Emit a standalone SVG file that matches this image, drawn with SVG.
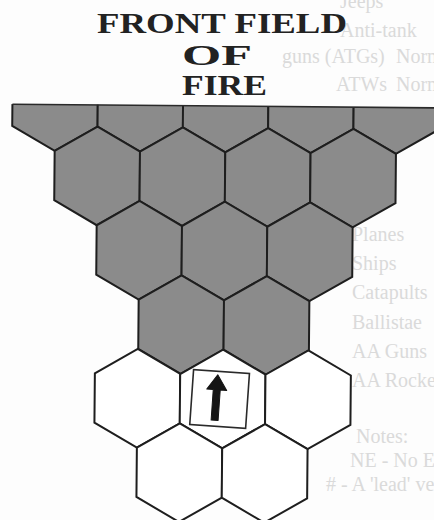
<svg xmlns="http://www.w3.org/2000/svg" xmlns:xlink="http://www.w3.org/1999/xlink" width="434" height="520" viewBox="0 0 434 520">
  <style>
    .bleed { font-family: "Liberation Serif", "Times New Roman", serif; font-size: 20px; fill: #dadada; }
    .title { font-family: "Liberation Serif", "Times New Roman", serif; font-weight: bold; font-size: 29px; fill: #222222; }
    .hg { fill: #8b8b8b; stroke: #1e1e1e; stroke-width: 2; stroke-linejoin: miter; }
    .hw { fill: #ffffff; stroke: #1e1e1e; stroke-width: 2; stroke-linejoin: miter; }
    .counter { fill: #ffffff; stroke: #2a2a2a; stroke-width: 1.6; }
    .arrow { fill: #151515; stroke: #151515; stroke-width: 1; stroke-linejoin: round; }
  </style>
  <defs>
    <polygon id="hx" points="0,-49.3 42.7,-24.65 42.7,24.65 0,49.3 -42.7,24.65 -42.7,-24.65"/>
    <clipPath id="bandClip">
      <rect x="0" y="106" width="460" height="100"/>
    </clipPath>
  </defs>

  <rect x="0" y="0" width="434" height="520" fill="#fdfdfd"/>

  <!-- faint show-through text from the page -->
  <g id="bleed-text" class="bleed">
    <text x="340" y="8">Jeeps</text>
    <text x="340" y="37">Anti-tank</text>
    <text x="282" y="63">guns (ATGs)</text>
    <text x="396" y="63">Normal</text>
    <text x="336" y="91">ATWs</text>
    <text x="396" y="91">Normal</text>
    <text x="352" y="241">Planes</text>
    <text x="352" y="270">Ships</text>
    <text x="352" y="299">Catapults</text>
    <text x="352" y="329">Ballistae</text>
    <text x="352" y="358">AA Guns</text>
    <text x="352" y="387">AA Rockets</text>
    <text x="356" y="443">Notes:</text>
    <text x="350" y="467">NE - No Effect</text>
    <text x="326" y="491"># - A 'lead' vehicle is any vehicle w</text>
  </g>

  <!-- title -->
  <g id="title" class="title">
    <text x="97" y="33" textLength="250" lengthAdjust="spacingAndGlyphs">FRONT FIELD</text>
    <text x="182" y="65" textLength="70" lengthAdjust="spacingAndGlyphs">OF</text>
    <text x="182" y="95" textLength="85" lengthAdjust="spacingAndGlyphs">FIRE</text>
  </g>

  <!-- hex field (scan is slightly rotated) -->
  <g id="hex-field" transform="rotate(0.5 220 290)">
    <g id="row1" clip-path="url(#bandClip)">
      <g id="hex-r1c1" transform="translate(53.5,103)"><use xlink:href="#hx" class="hg"/></g>
      <g id="hex-r1c2" transform="translate(138.8,103)"><use xlink:href="#hx" class="hg"/></g>
      <g id="hex-r1c3" transform="translate(224.1,103)"><use xlink:href="#hx" class="hg"/></g>
      <g id="hex-r1c4" transform="translate(309.4,103)"><use xlink:href="#hx" class="hg"/></g>
      <g id="hex-r1c5" transform="translate(394.7,103)"><use xlink:href="#hx" class="hg"/></g>
    </g>
    <line id="band-top" x1="10.8" y1="106" x2="440" y2="106" stroke="#2a2a2a" stroke-width="1.6"/>

    <g id="hex-r2c1" transform="translate(96.15,177)"><use xlink:href="#hx" class="hg"/></g>
    <g id="hex-r2c2" transform="translate(181.45,177)"><use xlink:href="#hx" class="hg"/></g>
    <g id="hex-r2c3" transform="translate(266.75,177)"><use xlink:href="#hx" class="hg"/></g>
    <g id="hex-r2c4" transform="translate(352.05,177)"><use xlink:href="#hx" class="hg"/></g>

    <g id="hex-r3c1" transform="translate(138.8,251)"><use xlink:href="#hx" class="hg"/></g>
    <g id="hex-r3c2" transform="translate(224.1,251)"><use xlink:href="#hx" class="hg"/></g>
    <g id="hex-r3c3" transform="translate(309.4,251)"><use xlink:href="#hx" class="hg"/></g>

    <g id="hex-r4c1" transform="translate(181.45,325)"><use xlink:href="#hx" class="hg"/></g>
    <g id="hex-r4c2" transform="translate(266.75,325)"><use xlink:href="#hx" class="hg"/></g>

    <g id="hex-r5c1" transform="translate(138.3,399)"><use xlink:href="#hx" class="hw"/></g>
    <g id="hex-r5c2" transform="translate(223.6,399)"><use xlink:href="#hx" class="hw"/></g>
    <g id="hex-r5c3" transform="translate(308.9,399)"><use xlink:href="#hx" class="hw"/></g>

    <g id="hex-r6c1" transform="translate(180.95,473)"><use xlink:href="#hx" class="hw"/></g>
    <g id="hex-r6c2" transform="translate(266.25,473)"><use xlink:href="#hx" class="hw"/></g>
  </g>

  <!-- unit counter with facing arrow -->
  <g id="unit-counter" transform="translate(219.6,399) rotate(4)">
    <rect class="counter" x="-28" y="-27.5" width="56" height="55"/>
    <polygon class="arrow" points="-3.5,-24 6.5,-9 0,-9 0,21.5 -7,21.5 -7,-9 -13.5,-9"/>
  </g>

  <g id="connectors"></g>
</svg>
